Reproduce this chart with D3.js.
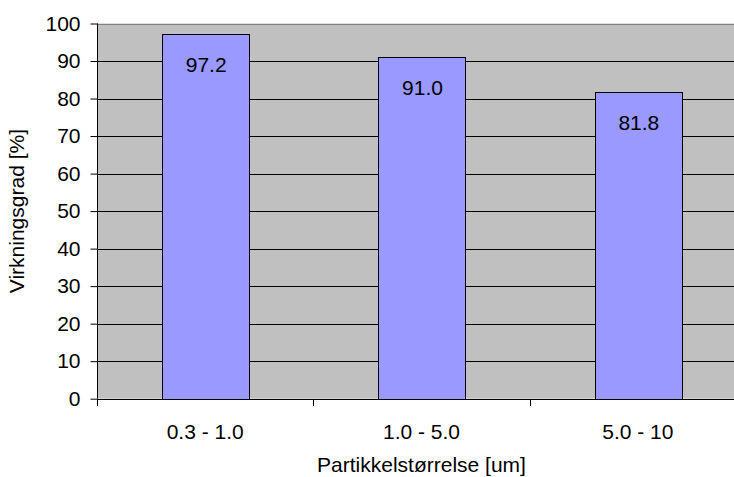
<!DOCTYPE html>
<html><head><meta charset="utf-8">
<script src="https://cdn.jsdelivr.net/npm/d3@7"></script>
<style>body{margin:0;background:#fff;overflow:hidden}svg{display:block}text{font-family:"Liberation Sans",Arial,sans-serif;fill:#000}</style>
</head><body><div id="c"></div>
<script>
const categories = ["0.3 - 1.0", "1.0 - 5.0", "5.0 - 10"];
const values = [97.2, 91.0, 81.8];
const yTicks = [0, 10, 20, 30, 40, 50, 60, 70, 80, 90, 100];
const xTitle = "Partikkelstørrelse [um]";
const yTitle = "Virkningsgrad [%]";

(function () {
const W = 734, H = 477;
const pLeft = 97, pRight = 746, pTop = 23.5, pBottom = 398.7;
const svg = d3.select("#c").append("svg").attr("width", W).attr("height", H);

const x = d3.scaleBand().domain(categories).range([pLeft, pRight]).paddingInner(0.6).paddingOuter(0.3);
const y = d3.scaleLinear().domain([0, 100]).range([pBottom, pTop]);

svg.append("rect").attr("x", pLeft).attr("y", pTop).attr("width", pRight - pLeft).attr("height", pBottom - pTop).attr("fill", "#C0C0C0");

svg.append("g").selectAll("line").data(yTicks.filter(d => d > 0 && d < 100)).join("line")
  .attr("x1", pLeft).attr("x2", pRight).attr("y1", d => Math.round(y(d)) + 0.5).attr("y2", d => Math.round(y(d)) + 0.5)
  .attr("stroke", "#000").attr("stroke-width", 1);
svg.append("line").attr("x1", pLeft).attr("x2", pRight).attr("y1", Math.round(pTop) + 0.5).attr("y2", Math.round(pTop) + 0.5).attr("stroke", "#808080");

svg.append("g").selectAll("rect").data(values).join("rect")
  .attr("x", (d, i) => Math.round(x(categories[i])) + 0.5)
  .attr("y", d => Math.round(y(d)) + 0.5)
  .attr("width", Math.round(x.bandwidth()))
  .attr("height", d => Math.round(y(0)) - Math.round(y(d)))
  .attr("fill", "#9999FF").attr("stroke", "#000").attr("stroke-width", 1);

svg.append("g").selectAll("text").data(values).join("text")
  .attr("x", (d, i) => x(categories[i]) + x.bandwidth() / 2 + 1)
  .attr("y", d => y(d) + 38)
  .attr("text-anchor", "middle").attr("font-size", 21)
  .text(d => d.toFixed(1));

const yAxis = d3.axisLeft(y).tickValues(yTicks).tickSize(7).tickPadding(10).tickFormat(d3.format("d"));
const gy = svg.append("g").attr("transform", `translate(${pLeft + 0.5},0)`).call(yAxis);
gy.selectAll("path").attr("stroke", "#000").attr("d", `M0,${pTop}V${pBottom}`);
gy.selectAll("line").attr("stroke", "#000");
gy.selectAll("text").attr("font-size", 21).attr("font-family", '"Liberation Sans",Arial,sans-serif').attr("fill", "#000");

const boundaries = [x.range()[0], ...categories.map((c, i) => x.range()[0] + x.step() * (i + 1))];
const gx = svg.append("g");
gx.append("line").attr("x1", pLeft).attr("x2", pRight).attr("y1", Math.round(pBottom) + 0.5).attr("y2", Math.round(pBottom) + 0.5).attr("stroke", "#000");
gx.selectAll("line.t").data(boundaries).join("line").attr("class", "t")
  .attr("x1", d => Math.round(d) + 0.5).attr("x2", d => Math.round(d) + 0.5)
  .attr("y1", Math.round(pBottom)).attr("y2", Math.round(pBottom) + 7).attr("stroke", "#000");
gx.selectAll("text").data(categories).join("text")
  .attr("x", d => x(d) + x.bandwidth() / 2).attr("y", 439)
  .attr("text-anchor", "middle").attr("font-size", 21).text(d => d);

svg.append("text").attr("x", (pLeft + pRight) / 2).attr("y", 472).attr("text-anchor", "middle").attr("font-size", 21).text(xTitle);
svg.append("text").attr("transform", `translate(24,${(pTop + pBottom) / 2}) rotate(-90)`).attr("text-anchor", "middle").attr("font-size", 21).text(yTitle);
})();
</script></body></html>
